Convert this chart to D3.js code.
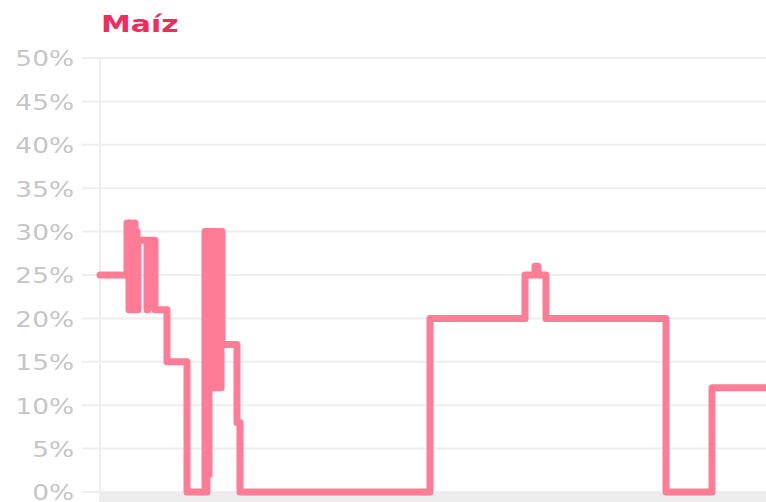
<!DOCTYPE html>
<html>
<head>
<meta charset="utf-8">
<script src="https://cdn.jsdelivr.net/npm/d3@7"></script>
<style>
  html, body { margin: 0; padding: 0; background: #fff; }
  svg { display: block; }
</style>
</head>
<body>
<svg id="chart" width="766" height="502"></svg>
<script>
const title = "Maíz";
const yTicks = [0, 5, 10, 15, 20, 25, 30, 35, 40, 45, 50];
// observation index (step positions) and share values in %
const obsIndex = [0, 27, 29, 30, 31, 32, 33, 34, 35, 36, 37, 38, 47, 48, 55, 67, 87,
  105, 106, 107, 108, 109, 110, 111, 112, 113, 114, 115, 116, 117, 118, 119, 120, 121, 122,
  137, 140, 330, 425, 435, 438, 446, 566, 612, 668];
const shareValues = [25, 31, 21, 31, 22, 30, 21, 31, 21, 30, 21, 29, 21, 29, 21, 15, 0,
  30, 0, 30, 2, 30, 13, 30, 12, 30, 14, 30, 12, 30, 12, 30, 12, 30, 17,
  8, 0, 20, 25, 26, 25, 20, 0, 12, 12];

const data = obsIndex.map((d, i) => ({ x: d, y: shareValues[i] }));

const svg = d3.select("#chart");
const W = 766, H = 502;
const mLeft = 100, mRight = 766, mTop = 58, mBottom = 492;

const x = d3.scaleLinear().domain([0, 666]).range([mLeft, mRight]);
const y = d3.scaleLinear().domain([0, 50]).range([mBottom, mTop]);

// grid lines
svg.append("g")
  .selectAll("line")
  .data(yTicks)
  .join("line")
  .attr("x1", 82).attr("x2", W)
  .attr("y1", d => y(d)).attr("y2", d => y(d))
  .attr("stroke", "#eeeeee").attr("stroke-width", 2);

// y axis vertical line
svg.append("line")
  .attr("x1", mLeft).attr("x2", mLeft)
  .attr("y1", mTop).attr("y2", H)
  .attr("stroke", "#eeeeee").attr("stroke-width", 2);

// bottom axis band
svg.append("rect")
  .attr("x", mLeft).attr("y", mBottom)
  .attr("width", W - mLeft).attr("height", H - mBottom)
  .attr("fill", "#ededed");

// tick labels
const yAxis = d3.axisLeft(y).tickValues(yTicks).tickFormat(d => d + "%").tickSize(0).tickPadding(0);
const gAxis = svg.append("g").attr("transform", "translate(74,0)").call(yAxis);
gAxis.select(".domain").remove();
gAxis.selectAll("text")
  .attr("font-family", "DejaVu Sans, sans-serif")
  .attr("font-size", 22)
  .attr("fill", "#c6c6c6")
  .attr("dy", "0.36em")
  .attr("x", 0)
  .attr("text-anchor", "end")
  .attr("transform", "scale(1.2,1)");

// line
const line = d3.line()
  .x(d => x(d.x))
  .y(d => y(d.y))
  .curve(d3.curveStepAfter);

svg.append("path")
  .datum(data)
  .attr("d", line)
  .attr("fill", "none")
  .attr("stroke", "#fe7c96")
  .attr("stroke-width", 7)
  .attr("stroke-linejoin", "round")
  .attr("stroke-linecap", "round");

// title
svg.append("text")
  .attr("transform", "translate(101,32) scale(1.3,1)")
  .attr("font-family", "DejaVu Sans, sans-serif")
  .attr("font-weight", "bold")
  .attr("font-size", 23)
  .attr("fill", "#f42a5c")
  .text(title);
</script>
</body>
</html>
